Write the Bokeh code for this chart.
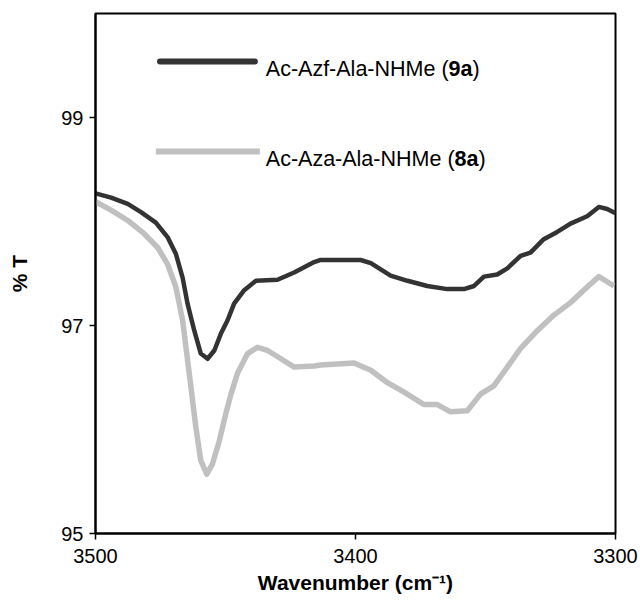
from bokeh.plotting import figure
from bokeh.models import Range1d, FixedTicker, Label, Arrow
from bokeh.embed import file_html
from bokeh.resources import INLINE

# ---- data ----
wn_9a = [3500, 3494, 3487.6, 3482.5, 3476.8, 3472.3, 3469.1, 3466.5, 3464.6, 3462.0,
         3459.5, 3456.9, 3454.3, 3451.8, 3449.2, 3446.7, 3442.8, 3438.3, 3430.0, 3423.6,
         3415.9, 3413.4, 3398.0, 3394.1, 3386.5, 3380.0, 3372.4, 3364.7, 3358.3, 3354.4,
         3350.6, 3345.5, 3341.6, 3336.5, 3332.7, 3327.6, 3322.4, 3317.3, 3310.9, 3306.4,
         3303.2, 3300]
t_9a = [98.27, 98.23, 98.17, 98.09, 97.99, 97.85, 97.69, 97.46, 97.21, 96.95,
        96.73, 96.68, 96.76, 96.92, 97.05, 97.21, 97.34, 97.43, 97.44, 97.51,
        97.61, 97.63, 97.63, 97.60, 97.48, 97.43, 97.38, 97.35, 97.35, 97.38,
        97.47, 97.49, 97.55, 97.67, 97.70, 97.83, 97.90, 97.98, 98.05, 98.14,
        98.12, 98.08]

wn_8a = [3500, 3494, 3487.6, 3481.2, 3476.1, 3472.3, 3469.1, 3466.5, 3465.2, 3463.3,
         3461.4, 3459.5, 3457.2, 3455.0, 3452.4, 3449.9, 3447.9, 3445.4, 3441.5, 3437.7,
         3433.8, 3428.7, 3423.6, 3415.9, 3413.4, 3400.6, 3394.1, 3387.7, 3381.3, 3373.7,
         3368.5, 3363.4, 3357.0, 3351.9, 3346.8, 3341.6, 3336.5, 3330.1, 3323.7, 3317.3,
         3310.9, 3306.4, 3303.8, 3300.6]
t_8a = [98.19, 98.11, 98.01, 97.88, 97.75, 97.59, 97.37, 97.05, 96.79, 96.41,
        96.02, 95.70, 95.57, 95.67, 95.89, 96.15, 96.34, 96.54, 96.73, 96.79,
        96.76, 96.68, 96.60, 96.61, 96.62, 96.64, 96.57, 96.45, 96.36, 96.24,
        96.24, 96.17, 96.18, 96.34, 96.42, 96.60, 96.78, 96.95, 97.10, 97.22,
        97.37, 97.47, 97.43, 97.38]

x_ticks = [3500, 3400, 3300]
y_ticks = [95, 97, 99]
series_names = ["Ac-Azf-Ala-NHMe (", "Ac-Aza-Ala-NHMe ("]
series_ids = ["9a", "8a"]

DARK = "#333333"
GRAY = "#c0c0c0"
FONT = "Liberation Sans"

p = figure(width=639, height=600, output_backend="svg", toolbar_location=None,
           x_range=Range1d(3500, 3300), y_range=Range1d(95, 100),
           min_border_left=95, min_border_right=24, min_border_top=13,
           min_border_bottom=67)

p.grid.visible = False
p.outline_line_color = "black"
p.outline_line_width = 2
p.background_fill_color = "white"
p.border_fill_color = "white"

for ax in (p.xaxis[0], p.yaxis[0]):
    ax.axis_line_color = "black"
    ax.axis_line_width = 2
    ax.major_tick_line_color = "black"
    ax.major_tick_line_width = 1.5
    ax.major_tick_out = 6
    ax.major_tick_in = 0
    ax.minor_tick_line_color = None
    ax.major_label_text_font = FONT
    ax.major_label_text_font_size = "20px"
    ax.major_label_text_color = "black"
    ax.axis_label_text_font = FONT
    ax.axis_label_text_font_size = "21px"
    ax.axis_label_text_font_style = "bold"
    ax.axis_label_text_color = "black"

p.xaxis.ticker = FixedTicker(ticks=x_ticks)
p.yaxis.ticker = FixedTicker(ticks=y_ticks)
p.xaxis.major_label_standoff = 9
p.xaxis.axis_label_standoff = 5
p.yaxis.major_label_standoff = 6
p.yaxis.axis_label_standoff = 27
p.xaxis.axis_label = "Wavenumber (cm\u207b\u00b9)"
p.yaxis.axis_label = "% T"

p.line(wn_8a, t_8a, line_color=GRAY, line_width=5.5, line_join="round")
p.line(wn_9a, t_9a, line_color=DARK, line_width=4.5, line_join="round")

# ---- legend (annotations) ----
p.add_layout(Arrow(x_start=3475.2, y_start=99.538, x_end=3438.7, y_end=99.538,
                   start=None, end=None, line_color=DARK, line_width=6,
                   line_cap="round"))
p.add_layout(Arrow(x_start=3476.8, y_start=98.673, x_end=3436.8, y_end=98.673,
                   start=None, end=None, line_color=GRAY, line_width=6,
                   line_cap="butt"))

fs = 21.5
widths_part1 = [8.5 * fs, 8.778 * fs]
bold_w = 1.112 * fs
for name, sid, yb, w1 in zip(series_names, series_ids, [99.468, 98.603], widths_part1):
    common = dict(x=3434.5, y=yb, text_font=FONT, text_font_size=f"{fs}px",
                  text_color="black", text_baseline="alphabetic", text_align="left")
    p.add_layout(Label(text=name, **common))
    p.add_layout(Label(text=sid, x_offset=w1, text_font_style="bold", **common))
    p.add_layout(Label(text=")", x_offset=w1 + bold_w, **common))

open("out.html", "w").write(file_html(p, INLINE))
